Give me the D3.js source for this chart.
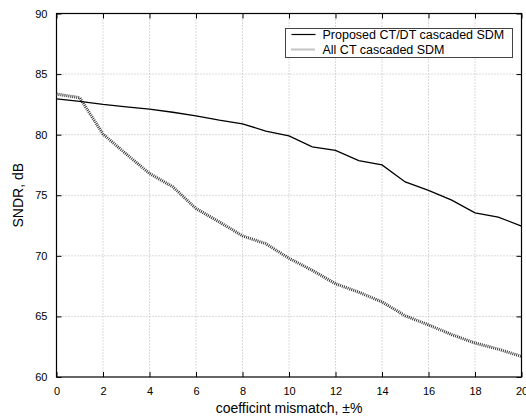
<!DOCTYPE html>
<html>
<head>
<meta charset="utf-8">
<script src="https://cdn.jsdelivr.net/npm/d3@7"></script>
<style>
  body { margin: 0; background: #fff; }
  svg text { font-family: Arial, "Liberation Sans", Helvetica, sans-serif; fill: #000; }
</style>
</head>
<body>
<div id="chart"></div>
<script>
// mismatch (±%) and SNDR (dB)
const mismatch = [0, 1, 2, 3, 4, 5, 6, 7, 8, 9, 10, 11, 12, 13, 14, 15, 16, 17, 18, 19, 20];
const proposedSndr = [82.95, 82.75, 82.5, 82.3, 82.1, 81.85, 81.55, 81.2, 80.9, 80.3, 79.9,
                      79.0, 78.7, 77.85, 77.5, 76.1, 75.4, 74.6, 73.55, 73.2, 72.45];
const allCtSndr = [83.35, 83.05, 80.05, 78.4, 76.8, 75.7, 73.9, 72.8, 71.65, 71.0, 69.8,
                   68.8, 67.7, 67.0, 66.2, 65.05, 64.3, 63.5, 62.8, 62.3, 61.7];
const xTicks = [0, 2, 4, 6, 8, 10, 12, 14, 16, 18, 20];
const yTicks = [60, 65, 70, 75, 80, 85, 90];
const seriesNames = ['Proposed CT/DT cascaded SDM', 'All CT cascaded SDM'];

const W = 526, H = 416;
const margin = {top: 13.5, right: 4.5, bottom: 39, left: 56.5};
const iw = W - margin.left - margin.right;
const ih = H - margin.top - margin.bottom;

const svg = d3.select('#chart').append('svg')
    .attr('width', W)
    .attr('height', H);

const g = svg.append('g')
    .attr('transform', `translate(${margin.left},${margin.top})`);

const x = d3.scaleLinear().domain([0, 20]).range([0, iw]);
const y = d3.scaleLinear().domain([60, 90]).range([ih, 0]);

// dotted grid
g.append('g')
    .selectAll('line')
    .data(xTicks.slice(1, -1))
    .join('line')
    .attr('x1', d => x(d)).attr('x2', d => x(d))
    .attr('y1', 0).attr('y2', ih)
    .attr('stroke', '#b5b5b5')
    .attr('stroke-dasharray', '1,2');

g.append('g')
    .selectAll('line')
    .data(yTicks.slice(1, -1))
    .join('line')
    .attr('x1', 0).attr('x2', iw)
    .attr('y1', d => y(d)).attr('y2', d => y(d))
    .attr('stroke', '#b5b5b5')
    .attr('stroke-dasharray', '1,2');

// axes, ticks inward on all four sides
const styleAxis = sel => {
    sel.select('.domain').remove();
    sel.selectAll('.tick line').attr('stroke', '#000').attr('stroke-width', 1);
    sel.selectAll('.tick text').attr('font-size', 11);
};

g.append('g')
    .attr('transform', `translate(0,${ih})`)
    .call(d3.axisBottom(x).tickValues(xTicks).tickSize(-5).tickPadding(10))
    .call(styleAxis);

g.append('g')
    .call(d3.axisLeft(y).tickValues(yTicks).tickSize(-5).tickPadding(9))
    .call(styleAxis);

g.append('g')
    .call(d3.axisTop(x).tickValues(xTicks).tickSize(-5).tickFormat(''))
    .call(styleAxis);

g.append('g')
    .attr('transform', `translate(${iw},0)`)
    .call(d3.axisRight(y).tickValues(yTicks).tickSize(-5).tickFormat(''))
    .call(styleAxis);

g.append('rect')
    .attr('width', iw).attr('height', ih)
    .attr('fill', 'none')
    .attr('stroke', '#000')
    .attr('stroke-width', 1.2);

// curves
const line = d3.line()
    .x(d => x(d[0]))
    .y(d => y(d[1]));

g.append('path')
    .datum(mismatch.map((m, i) => [m, allCtSndr[i]]))
    .attr('d', line)
    .attr('fill', 'none')
    .attr('stroke', '#3a3a3a')
    .attr('stroke-width', 3)
    .attr('stroke-dasharray', '1,1');

g.append('path')
    .datum(mismatch.map((m, i) => [m, proposedSndr[i]]))
    .attr('d', line)
    .attr('fill', 'none')
    .attr('stroke', '#000')
    .attr('stroke-width', 1.3);

// legend
const legend = svg.append('g').attr('transform', 'translate(285.5,28.5)');
legend.append('rect')
    .attr('width', 227).attr('height', 29)
    .attr('fill', '#fff')
    .attr('stroke', '#444')
    .attr('stroke-width', 1);

legend.append('line')
    .attr('x1', 6).attr('x2', 30).attr('y1', 6).attr('y2', 6)
    .attr('stroke', '#000').attr('stroke-width', 1.2);
legend.append('line')
    .attr('x1', 6).attr('x2', 30).attr('y1', 21).attr('y2', 21)
    .attr('stroke', '#888').attr('stroke-width', 2)
    .attr('stroke-dasharray', '1,1');

legend.selectAll('text.lbl')
    .data(seriesNames)
    .join('text')
    .attr('class', 'lbl')
    .attr('x', 37)
    .attr('y', (d, i) => 6 + i * 15)
    .attr('dy', '0.36em')
    .attr('font-size', 12.5)
    .text(d => d);

// axis titles
svg.append('text')
    .attr('x', margin.left + iw / 2)
    .attr('y', 413)
    .attr('text-anchor', 'middle')
    .attr('font-size', 14)
    .text('coefficint mismatch, ±%');

svg.append('text')
    .attr('transform', `translate(23,${margin.top + ih / 2}) rotate(-90)`)
    .attr('text-anchor', 'middle')
    .attr('font-size', 14)
    .text('SNDR, dB');
</script>
</body>
</html>
